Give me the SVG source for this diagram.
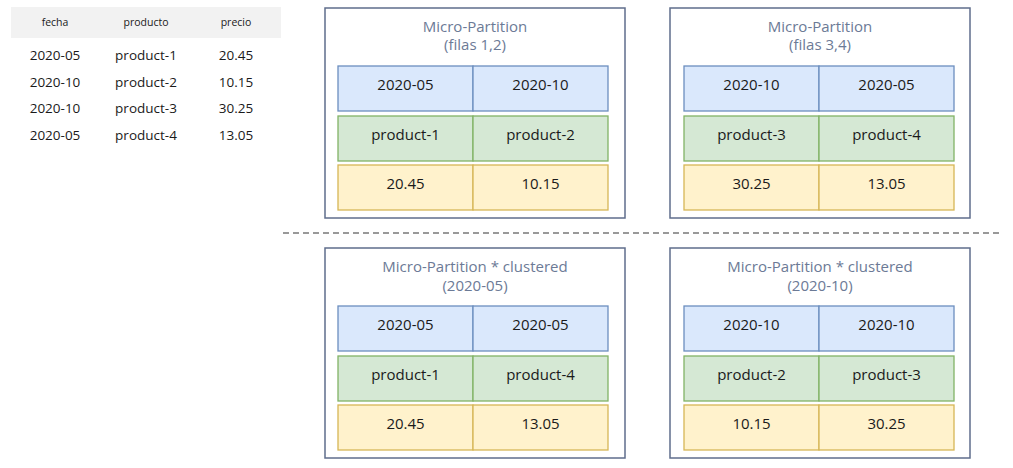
<svg xmlns="http://www.w3.org/2000/svg" width="1013" height="468" viewBox="0 0 1013 468">
<style>
text{font-family:"Open Sans","DejaVu Sans",sans-serif;text-anchor:middle;dominant-baseline:central}
.tbl{font-size:13.5px;fill:#1a1a1a}
.hdr{font-size:10.5px;fill:#1a1a1a}
.box{fill:#ffffff;stroke:#5f6d8c;stroke-width:1.5}
.ttl{font-size:15px;fill:#6c7a96}
.c{font-size:15px;fill:#1a1a1a}
.b{fill:#dae8fc;stroke:#6c8ebf;stroke-width:1.3}
.g{fill:#d5e8d4;stroke:#82b366;stroke-width:1.3}
.y{fill:#fff2cc;stroke:#d6b656;stroke-width:1.3}
</style>
<rect width="1013" height="468" fill="#ffffff"/>
<g id="table">
<rect x="11" y="7" width="270" height="31" fill="#f2f2f2"/>
<text class="hdr" x="55" y="22">fecha</text>
<text class="hdr" x="146" y="22">producto</text>
<text class="hdr" x="236" y="22">precio</text>
<text class="tbl" x="55" y="55">2020-05</text><text class="tbl" x="146" y="55">product-1</text><text class="tbl" x="236" y="55">20.45</text>
<text class="tbl" x="55" y="82">2020-10</text><text class="tbl" x="146" y="82">product-2</text><text class="tbl" x="236" y="82">10.15</text>
<text class="tbl" x="55" y="108">2020-10</text><text class="tbl" x="146" y="108">product-3</text><text class="tbl" x="236" y="108">30.25</text>
<text class="tbl" x="55" y="135">2020-05</text><text class="tbl" x="146" y="135">product-4</text><text class="tbl" x="236" y="135">13.05</text>
</g>
<g id="connectors">
<line x1="283" y1="233" x2="1001" y2="233" stroke="#999999" stroke-width="2" stroke-dasharray="6,4"/>
</g>
<g id="mp1">
<rect class="box" x="325" y="8" width="300" height="210"/>
<text class="ttl" x="475" y="26">Micro-Partition</text>
<text class="ttl" x="475" y="44">(filas 1,2)</text>
<rect class="b" x="338" y="66" width="135" height="45"/><rect class="b" x="473" y="66" width="135" height="45"/>
<rect class="g" x="338" y="116" width="135" height="45"/><rect class="g" x="473" y="116" width="135" height="45"/>
<rect class="y" x="338" y="165" width="135" height="45"/><rect class="y" x="473" y="165" width="135" height="45"/>
<text class="c" x="405.5" y="84">2020-05</text><text class="c" x="540.5" y="84">2020-10</text>
<text class="c" x="405.5" y="134">product-1</text><text class="c" x="540.5" y="134">product-2</text>
<text class="c" x="405.5" y="183">20.45</text><text class="c" x="540.5" y="183">10.15</text>
</g>
<g id="mp2">
<rect class="box" x="670" y="8" width="300" height="210"/>
<text class="ttl" x="820" y="26">Micro-Partition</text>
<text class="ttl" x="820" y="44">(filas 3,4)</text>
<rect class="b" x="684" y="66" width="135" height="45"/><rect class="b" x="819" y="66" width="135" height="45"/>
<rect class="g" x="684" y="116" width="135" height="45"/><rect class="g" x="819" y="116" width="135" height="45"/>
<rect class="y" x="684" y="165" width="135" height="45"/><rect class="y" x="819" y="165" width="135" height="45"/>
<text class="c" x="751.5" y="84">2020-10</text><text class="c" x="886.5" y="84">2020-05</text>
<text class="c" x="751.5" y="134">product-3</text><text class="c" x="886.5" y="134">product-4</text>
<text class="c" x="751.5" y="183">30.25</text><text class="c" x="886.5" y="183">13.05</text>
</g>
<g id="mp3">
<rect class="box" x="325" y="248" width="300" height="210"/>
<text class="ttl" x="475" y="266">Micro-Partition * clustered</text>
<text class="ttl" x="475" y="285">(2020-05)</text>
<rect class="b" x="338" y="306" width="135" height="45"/><rect class="b" x="473" y="306" width="135" height="45"/>
<rect class="g" x="338" y="356" width="135" height="45"/><rect class="g" x="473" y="356" width="135" height="45"/>
<rect class="y" x="338" y="405" width="135" height="45"/><rect class="y" x="473" y="405" width="135" height="45"/>
<text class="c" x="405.5" y="324">2020-05</text><text class="c" x="540.5" y="324">2020-05</text>
<text class="c" x="405.5" y="374">product-1</text><text class="c" x="540.5" y="374">product-4</text>
<text class="c" x="405.5" y="423">20.45</text><text class="c" x="540.5" y="423">13.05</text>
</g>
<g id="mp4">
<rect class="box" x="670" y="248" width="300" height="210"/>
<text class="ttl" x="820" y="266">Micro-Partition * clustered</text>
<text class="ttl" x="820" y="285">(2020-10)</text>
<rect class="b" x="684" y="306" width="135" height="45"/><rect class="b" x="819" y="306" width="135" height="45"/>
<rect class="g" x="684" y="356" width="135" height="45"/><rect class="g" x="819" y="356" width="135" height="45"/>
<rect class="y" x="684" y="405" width="135" height="45"/><rect class="y" x="819" y="405" width="135" height="45"/>
<text class="c" x="751.5" y="324">2020-10</text><text class="c" x="886.5" y="324">2020-10</text>
<text class="c" x="751.5" y="374">product-2</text><text class="c" x="886.5" y="374">product-3</text>
<text class="c" x="751.5" y="423">10.15</text><text class="c" x="886.5" y="423">30.25</text>
</g>
</svg>
